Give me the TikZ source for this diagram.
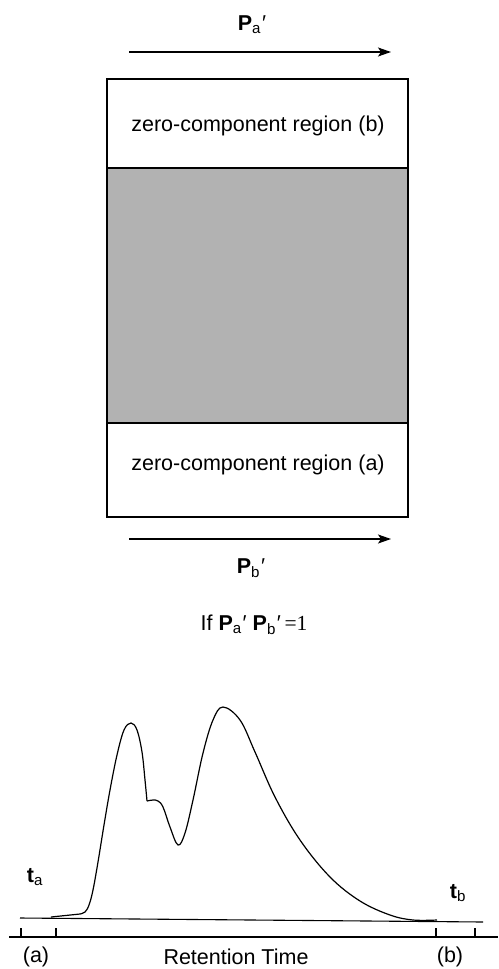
\documentclass[tikz,border=0pt]{standalone}
\usepackage{fontspec}
\setmainfont{Liberation Sans}
\usetikzlibrary{arrows.meta}
\begin{document}
\begin{tikzpicture}[x=1pt,y=-1pt,
  lbl/.style={inner sep=0pt,font=\fontsize{21.5}{24}\selectfont},
  vec/.style={line width=1.3pt,-{Stealth[length=13pt,width=9pt,inset=3pt]}},
  boxline/.style={line width=1.2pt},
  curve/.style={line width=1.2pt,line join=round}]
\useasboundingbox (0,0) rectangle (498,969);
% top arrow and label
\coordinate (ta0) at (129,52);
\coordinate (ta1) at (391,52);
\draw[vec] (ta0) -- (ta1);
\node[lbl] (pa) at (252,25) {\textbf{P}\textsubscript{a}\kern1pt′};
% box
\fill[black!30] (107,168) rectangle (408,423);
\draw[boxline] (107,79) rectangle (408,517);
\draw[boxline] (107,168) -- (408,168);
\draw[boxline] (107,423) -- (408,423);
\node[lbl] (zb) at (258,126) {zero-component region (b)};
\node[lbl] (za) at (258,465) {zero-component region (a)};
% bottom arrow and label
\coordinate (ba0) at (129,539);
\coordinate (ba1) at (391,539);
\draw[vec] (ba0) -- (ba1);
\node[lbl] (pb) at (251,568) {\textbf{P}\textsubscript{b}\kern1pt′};
\node[lbl] (cond) at (254,625) {If \textbf{P}\textsubscript{a}\kern1pt′ \textbf{P}\textsubscript{b}\kern1pt′\,{\fontspec{Liberation Serif}=1}};
% chromatogram
\draw[line width=1.1pt] (20,918) -- (483,922);
\draw[curve] (51,917) -- (80,914)
  plot[smooth,tension=0.6] coordinates {(80,914) (85,912) (89,905) (93,890) (98,862) (104,825) (110,790) (117,755) (124,730) (131,723) (137,730) (142,752) (145,780) (147,801)};
\draw[curve] plot[smooth,tension=0.6] coordinates {(147,801) (153,800) (158,801) (163,807) (170,827) (178,845) (185,833) (193,800) (203,753) (213,720) (223,707) (240,720) (255,752) (275,797) (300,840) (330,877) (360,901) (390,915) (413,920) (437,920)};
% axis
\draw[line width=1.2pt] (9,937) -- (498,937);
\foreach \t in {21,56,436,475} \draw[line width=1.1pt] (\t,928) -- (\t,937);
\node[lbl] (la) at (36,957) {(a)};
\node[lbl] (lb) at (450,957) {(b)};
\node[lbl] (rt) at (236,957) {Retention Time};
\node[lbl] (tA) at (35,877) {\textbf{t}\textsubscript{a}};
\node[lbl] (tB) at (458,893) {\textbf{t}\textsubscript{b}};
\end{tikzpicture}
\end{document}
